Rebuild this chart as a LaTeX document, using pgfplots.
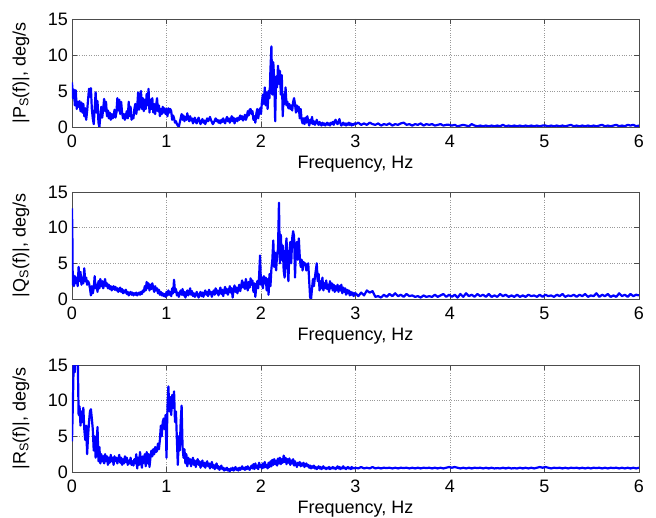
\documentclass[border=0pt]{standalone}
\usepackage{fontspec}
\setmainfont{Liberation Sans}
\usepackage{pgfplots}
\pgfplotsset{compat=1.18}
\pgfplotsset{
  myax/.style={
    width=567pt, scale only axis,
    xmin=0, xmax=6, ymin=0, ymax=15,
    xtick={0,1,2,3,4,5,6}, ytick={0,5,10,15},
    grid=major,
    major grid style={gray!80, line width=0.5pt, dash pattern=on 0.8pt off 1.6pt},
    tick align=inside, major tick length=5pt,
    axis line style={black!70, line width=0.6pt},
    tick style={black!70, line width=0.6pt},
    no markers,
    /pgf/number format/assume math mode=true,
    every tick label/.append style={font=\fontsize{18}{21}\selectfont},
    every axis label/.append style={font=\fontsize{18}{21}\selectfont},
    xticklabel style={inner sep=0pt, anchor=north, yshift=-8pt},
    yticklabel style={inner sep=0pt, anchor=east, xshift=-4pt},
    xlabel={Frequency, Hz},
    xlabel style={at={(axis description cs:0.5,0)}, anchor=north, inner sep=0pt, yshift=-29pt},
    ylabel style={at={(axis description cs:-0.09,0.5)}, anchor=center, inner sep=0pt},
  },
  myline/.style={blue, line width=2.2pt, line join=round, mark=none},
}
\begin{document}
\fontsize{18}{21}\selectfont
\begin{tikzpicture}[x=1pt,y=1pt]
\useasboundingbox (0,0) rectangle (656,517);
% ---------------- P ----------------
\begin{axis}[myax, height=108pt, at={(72pt,390pt)}, anchor=south west,
  ylabel={|P\textsubscript{S}(f)|, deg/s}]
\addplot[myline] coordinates {
(0.00,6.2)(0.01,4.0)(0.02,5.2)(0.03,3.0)(0.04,5.1)(0.05,2.5)(0.06,3.5)(0.07,2.8)(0.08,3.6)(0.09,2.2)
(0.10,3.4)(0.11,2.0)(0.12,3.2)(0.13,1.5)(0.14,2.6)(0.15,1.0)(0.16,2.2)(0.17,3.8)(0.18,5.3)(0.19,4.2)
(0.20,5.4)(0.21,2.5)(0.22,1.2)(0.23,0.4)(0.24,2.5)(0.25,4.8)(0.26,2.0)(0.27,3.6)(0.28,0.6)(0.29,0.0)
(0.30,1.5)(0.31,2.8)(0.32,1.3)(0.33,2.5)(0.34,3.9)(0.35,2.2)(0.36,3.5)(0.37,1.5)(0.38,2.3)(0.39,1.2)
(0.40,2.0)(0.41,1.0)(0.42,1.8)(0.43,1.2)(0.44,1.5)(0.45,2.4)(0.46,1.3)(0.47,2.0)(0.48,4.0)(0.49,2.3)
(0.50,3.8)(0.51,1.8)(0.52,3.5)(0.53,2.0)(0.54,1.2)(0.55,1.8)(0.56,1.0)(0.57,1.6)(0.58,2.2)(0.59,1.2)
(0.60,3.5)(0.61,1.5)(0.62,2.8)(0.63,1.0)(0.64,1.5)(0.65,1.2)(0.66,2.5)(0.67,3.2)(0.68,1.8)(0.69,2.8)
(0.70,4.8)(0.71,2.4)(0.72,3.2)(0.73,5.0)(0.74,2.5)(0.75,4.0)(0.76,2.2)(0.77,3.8)(0.78,2.5)(0.79,4.6)
(0.80,3.0)(0.81,5.3)(0.82,2.0)(0.83,3.8)(0.84,2.5)(0.85,4.0)(0.86,2.0)(0.87,3.2)(0.88,1.8)(0.89,3.0)
(0.90,4.0)(0.91,2.2)(0.92,3.0)(0.93,1.5)(0.94,2.5)(0.95,1.8)(0.96,2.8)(0.97,2.0)(0.98,2.6)(0.99,1.8)
(1.00,2.5)(1.01,1.5)(1.02,2.6)(1.03,2.0)(1.04,2.5)(1.05,2.2)(1.06,1.0)(1.07,1.6)(1.08,1.2)(1.09,0.6)
(1.10,0.8)(1.11,0.4)(1.12,0.2)(1.13,0.0)(1.14,0.6)(1.15,1.2)(1.16,1.8)(1.17,1.0)(1.18,1.6)(1.19,0.8)
(1.20,1.4)(1.21,1.0)(1.22,1.9)(1.23,1.2)(1.24,0.8)(1.25,1.5)(1.26,0.9)(1.27,1.2)(1.28,0.5)(1.29,0.9)
(1.30,1.3)(1.31,0.7)(1.32,0.5)(1.33,1.0)(1.34,1.3)(1.35,0.8)(1.36,0.4)(1.37,0.8)(1.38,1.1)(1.39,0.6)
(1.40,0.9)(1.41,0.4)(1.42,0.8)(1.43,1.2)(1.44,0.8)(1.45,1.0)(1.46,1.4)(1.47,1.0)(1.48,0.7)(1.49,0.4)
(1.50,0.6)(1.51,0.9)(1.52,1.2)(1.53,0.8)(1.54,1.0)(1.55,0.6)(1.56,0.9)(1.57,0.5)(1.58,1.0)(1.59,0.7)
(1.60,1.2)(1.61,0.8)(1.62,0.5)(1.63,1.0)(1.64,1.4)(1.65,0.8)(1.66,1.2)(1.67,0.6)(1.68,1.0)(1.69,1.5)
(1.70,0.8)(1.71,1.3)(1.72,0.5)(1.73,1.0)(1.74,1.2)(1.75,0.8)(1.76,1.3)(1.77,1.0)(1.78,1.6)(1.79,1.1)
(1.80,1.5)(1.81,0.9)(1.82,1.2)(1.83,1.7)(1.84,1.0)(1.85,1.4)(1.86,2.2)(1.87,1.6)(1.88,2.4)(1.89,2.5)
(1.90,1.8)(1.91,2.2)(1.92,1.0)(1.93,1.5)(1.94,0.6)(1.95,1.8)(1.96,2.5)(1.97,1.2)(1.98,2.0)(1.99,2.6)
(2.00,1.8)(2.01,3.5)(2.02,4.5)(2.03,3.2)(2.04,5.5)(2.05,3.0)(2.06,4.8)(2.07,2.5)(2.08,5.0)(2.09,4.0)
(2.10,8.0)(2.11,11.2)(2.12,4.5)(2.13,9.0)(2.14,6.5)(2.15,0.8)(2.16,7.0)(2.17,5.5)(2.18,8.5)(2.19,6.0)
(2.20,7.8)(2.21,4.5)(2.22,7.2)(2.23,1.5)(2.24,4.5)(2.25,3.2)(2.26,5.5)(2.27,3.0)(2.28,3.5)(2.29,2.6)
(2.30,3.2)(2.31,2.5)(2.32,3.0)(2.33,2.3)(2.34,3.5)(2.35,4.0)(2.36,3.2)(2.37,2.0)(2.38,3.0)(2.39,2.2)
(2.40,2.8)(2.41,1.2)(2.42,2.5)(2.43,1.0)(2.44,0.5)(2.45,1.2)(2.46,0.4)(2.47,1.3)(2.48,0.6)(2.49,1.5)
(2.50,0.8)(2.51,0.2)(2.52,1.0)(2.53,0.5)(2.54,1.4)(2.55,0.4)(2.56,0.8)(2.57,0.3)(2.58,0.6)(2.59,1.0)
(2.60,0.5)(2.61,0.3)(2.62,0.7)(2.63,0.4)(2.64,0.2)(2.65,0.6)(2.66,0.3)(2.67,0.5)(2.68,0.2)(2.69,0.4)
(2.70,0.6)(2.71,0.3)(2.72,0.5)(2.73,0.2)(2.74,0.6)(2.75,0.4)(2.76,0.7)(2.77,0.3)(2.78,0.8)(2.79,1.0)
(2.80,0.6)(2.81,0.4)(2.82,0.7)(2.83,1.1)(2.84,0.5)(2.85,0.2)(2.86,0.4)(2.87,0.6)(2.88,0.3)(2.89,0.5)
(2.90,0.2)(2.91,0.5)(2.92,0.3)(2.93,0.6)(2.94,0.3)(2.95,0.5)(2.96,0.2)(2.97,0.4)(2.98,0.3)(2.99,0.5)
(3.00,0.4)(3.03,0.6)(3.06,0.3)(3.09,0.5)(3.12,0.3)(3.15,0.6)(3.18,0.4)(3.21,0.3)(3.24,0.5)(3.27,0.2)
(3.30,0.4)(3.33,0.3)(3.36,0.5)(3.39,0.2)(3.42,0.4)(3.45,0.3)(3.48,0.5)(3.51,0.6)(3.54,0.3)(3.57,0.4)
(3.60,0.2)(3.63,0.4)(3.66,0.3)(3.69,0.5)(3.72,0.2)(3.75,0.4)(3.78,0.3)(3.81,0.4)(3.84,0.2)(3.87,0.3)
(3.90,0.4)(3.93,0.2)(3.96,0.3)(3.99,0.3)(4.02,0.2)(4.05,0.3)(4.08,0.1)(4.11,0.2)(4.14,0.3)(4.17,0.2)
(4.20,0.1)(4.23,0.4)(4.26,0.2)(4.29,0.1)(4.32,0.2)(4.35,0.1)(4.38,0.2)(4.41,0.1)(4.44,0.2)(4.47,0.1)
(4.50,0.2)(4.53,0.1)(4.56,0.3)(4.59,0.1)(4.62,0.2)(4.65,0.1)(4.68,0.2)(4.71,0.1)(4.74,0.2)(4.77,0.1)
(4.80,0.2)(4.83,0.1)(4.86,0.2)(4.89,0.1)(4.92,0.2)(4.95,0.1)(4.98,0.2)(5.01,0.2)(5.04,0.1)(5.07,0.2)
(5.10,0.1)(5.13,0.2)(5.16,0.1)(5.19,0.2)(5.22,0.1)(5.25,0.2)(5.28,0.3)(5.31,0.1)(5.34,0.2)(5.37,0.1)
(5.40,0.2)(5.43,0.1)(5.46,0.2)(5.49,0.1)(5.52,0.2)(5.55,0.1)(5.58,0.2)(5.61,0.3)(5.64,0.1)(5.67,0.2)
(5.70,0.1)(5.73,0.2)(5.76,0.3)(5.79,0.1)(5.82,0.2)(5.85,0.1)(5.88,0.3)(5.91,0.2)(5.94,0.3)(5.97,0.1)
(6.00,0.2)
};
\end{axis}
% ---------------- Q ----------------
\begin{axis}[myax, height=107pt, at={(72pt,218pt)}, anchor=south west,
  ylabel={|Q\textsubscript{S}(f)|, deg/s}]
\addplot[myline] coordinates {
(0.000,12.7)(0.004,8.9)(0.008,2.0)
(0.01,3.5)(0.02,1.8)(0.03,3.2)(0.04,2.2)(0.05,3.0)(0.06,1.8)(0.07,4.5)(0.08,2.5)(0.09,3.8)
(0.10,2.0)(0.11,3.0)(0.12,2.2)(0.13,4.3)(0.14,2.5)(0.15,3.0)(0.16,2.0)(0.17,2.5)(0.18,2.2)(0.19,1.5)
(0.20,0.5)(0.21,1.8)(0.22,0.8)(0.23,1.5)(0.24,3.2)(0.25,1.5)(0.26,2.0)(0.27,1.0)(0.28,2.5)(0.29,1.5)
(0.30,2.8)(0.31,1.8)(0.32,2.5)(0.33,1.5)(0.34,2.0)(0.35,2.8)(0.36,1.8)(0.37,2.2)(0.38,1.5)(0.39,2.0)
(0.40,1.4)(0.41,1.8)(0.42,1.2)(0.43,1.6)(0.44,1.8)(0.45,1.3)(0.46,1.7)(0.47,1.2)(0.48,1.5)(0.49,1.0)
(0.50,1.4)(0.51,1.6)(0.52,1.0)(0.53,1.4)(0.54,0.8)(0.55,1.2)(0.56,0.9)(0.57,1.3)(0.58,0.7)(0.59,1.0)
(0.60,0.5)(0.61,0.8)(0.62,1.0)(0.63,0.6)(0.64,0.9)(0.65,0.5)(0.66,0.8)(0.67,0.6)(0.68,0.9)(0.69,0.5)
(0.70,0.7)(0.71,0.9)(0.72,0.6)(0.73,1.0)(0.74,0.7)(0.75,1.2)(0.76,1.0)(0.77,1.8)(0.78,1.2)(0.79,2.4)
(0.80,1.5)(0.81,2.2)(0.82,1.2)(0.83,2.0)(0.84,1.4)(0.85,2.2)(0.86,1.5)(0.87,1.0)(0.88,1.8)(0.89,1.2)
(0.90,1.5)(0.91,0.8)(0.92,1.3)(0.93,0.6)(0.94,1.0)(0.95,0.5)(0.96,0.8)(0.97,0.4)(0.98,0.7)(0.99,0.3)
(1.00,1.0)(1.01,0.5)(1.02,1.2)(1.03,0.6)(1.04,1.0)(1.05,0.4)(1.06,1.5)(1.07,0.8)(1.08,2.7)(1.09,1.0)
(1.10,1.4)(1.11,0.5)(1.12,0.9)(1.13,0.3)(1.14,0.8)(1.15,1.2)(1.16,0.6)(1.17,1.4)(1.18,0.5)(1.19,1.0)
(1.20,0.2)(1.21,0.7)(1.22,1.2)(1.23,0.5)(1.24,0.9)(1.25,1.5)(1.26,0.6)(1.27,1.1)(1.28,0.4)(1.29,0.8)
(1.30,0.3)(1.31,0.6)(1.32,1.0)(1.33,0.5)(1.34,0.2)(1.35,0.7)(1.36,1.0)(1.37,0.4)(1.38,0.9)(1.39,0.3)
(1.40,0.8)(1.41,1.2)(1.42,0.6)(1.43,1.0)(1.44,0.4)(1.45,1.3)(1.46,0.7)(1.47,1.0)(1.48,0.3)(1.49,0.9)
(1.50,1.2)(1.51,0.6)(1.52,1.5)(1.53,0.8)(1.54,1.2)(1.55,0.5)(1.56,1.0)(1.57,1.6)(1.58,0.7)(1.59,1.3)
(1.60,0.4)(1.61,1.1)(1.62,1.7)(1.63,0.8)(1.64,1.4)(1.65,0.6)(1.66,1.2)(1.67,1.8)(1.68,0.9)(1.69,1.5)
(1.70,0.2)(1.71,1.3)(1.72,1.9)(1.73,1.0)(1.74,1.6)(1.75,0.8)(1.76,1.4)(1.77,2.0)(1.78,1.1)(1.79,1.8)
(1.80,2.6)(1.81,1.6)(1.82,2.3)(1.83,1.4)(1.84,2.8)(1.85,2.0)(1.86,1.2)(1.87,2.4)(1.88,1.6)(1.89,2.9)
(1.90,2.0)(1.91,2.6)(1.92,1.0)(1.93,2.2)(1.94,0.3)(1.95,1.8)(1.96,2.5)(1.97,1.5)(1.98,3.2)(1.99,6.1)
(2.00,2.0)(2.01,3.0)(2.02,1.5)(2.03,3.2)(2.04,2.2)(2.05,3.0)(2.06,1.2)(2.07,2.8)(2.08,0.6)(2.09,3.5)
(2.10,1.8)(2.11,4.2)(2.12,5.5)(2.13,8.2)(2.14,4.5)(2.15,6.5)(2.16,4.0)(2.17,6.2)(2.18,7.0)(2.19,13.5)
(2.20,5.0)(2.21,9.0)(2.22,5.5)(2.23,7.5)(2.24,4.0)(2.25,3.0)(2.26,6.8)(2.27,8.5)(2.28,4.5)(2.29,2.5)
(2.30,6.5)(2.31,8.0)(2.32,5.0)(2.33,8.5)(2.34,9.5)(2.35,8.8)(2.36,3.0)(2.37,7.0)(2.38,8.0)(2.39,5.5)
(2.40,8.5)(2.41,6.0)(2.42,4.5)(2.43,5.5)(2.44,4.0)(2.45,5.2)(2.46,4.8)(2.47,5.0)(2.48,4.0)(2.49,4.6)
(2.50,5.0)(2.51,2.5)(2.52,0.2)(2.53,0.0)(2.54,1.5)(2.55,2.8)(2.56,1.8)(2.57,3.0)(2.58,4.0)(2.59,5.0)
(2.60,2.5)(2.61,3.5)(2.62,1.2)(2.63,2.5)(2.64,1.5)(2.65,3.0)(2.66,1.2)(2.67,2.2)(2.68,1.5)(2.69,2.6)
(2.70,1.4)(2.71,2.0)(2.72,1.0)(2.73,2.5)(2.74,1.5)(2.75,2.2)(2.76,1.2)(2.77,2.0)(2.78,1.0)(2.79,1.8)
(2.80,1.2)(2.81,2.0)(2.82,1.0)(2.83,1.8)(2.84,1.2)(2.85,2.0)(2.86,0.8)(2.87,1.6)(2.88,1.0)(2.89,1.5)
(2.90,0.6)(2.91,1.3)(2.92,0.8)(2.93,1.2)(2.94,0.5)(2.95,1.0)(2.96,0.6)(2.97,0.9)(2.98,0.4)(2.99,0.8)
(3.00,0.8)(3.03,0.4)(3.06,0.9)(3.09,0.5)(3.12,1.2)(3.15,0.9)(3.18,1.1)(3.21,0.3)(3.24,0.4)(3.27,0.2)
(3.30,0.6)(3.33,0.3)(3.36,0.7)(3.39,0.4)(3.42,0.8)(3.45,0.4)(3.48,0.6)(3.51,0.3)(3.54,0.7)(3.57,0.4)
(3.60,0.5)(3.63,0.3)(3.66,0.4)(3.69,0.2)(3.72,0.5)(3.75,0.3)(3.78,0.4)(3.81,0.3)(3.84,0.6)(3.87,0.3)
(3.90,0.5)(3.93,0.7)(3.96,0.3)(3.99,0.6)(4.02,0.3)(4.05,0.6)(4.08,0.2)(4.11,0.7)(4.14,0.3)(4.17,0.8)
(4.20,0.4)(4.23,0.6)(4.26,0.3)(4.29,0.7)(4.32,0.4)(4.35,0.6)(4.38,0.3)(4.41,0.7)(4.44,0.3)(4.47,0.5)
(4.50,0.3)(4.53,0.7)(4.56,0.4)(4.59,0.6)(4.62,0.3)(4.65,0.5)(4.68,0.3)(4.71,0.6)(4.74,0.3)(4.77,0.5)
(4.80,0.3)(4.83,0.6)(4.86,0.4)(4.89,0.5)(4.92,0.3)(4.95,0.6)(4.98,0.3)(5.01,0.6)(5.04,0.4)(5.07,0.5)
(5.10,0.3)(5.13,0.6)(5.16,0.4)(5.19,0.7)(5.22,0.3)(5.25,0.5)(5.28,0.4)(5.31,0.6)(5.34,0.3)(5.37,0.6)
(5.40,0.4)(5.43,0.7)(5.46,0.3)(5.49,0.5)(5.52,0.4)(5.55,0.8)(5.58,0.3)(5.61,0.6)(5.64,0.4)(5.67,0.7)
(5.70,0.3)(5.73,0.5)(5.76,0.3)(5.79,0.8)(5.82,0.4)(5.85,0.6)(5.88,0.3)(5.91,0.7)(5.94,0.4)(5.97,0.6)
(6.00,0.5)
};
\end{axis}
% ---------------- R ----------------
\begin{axis}[myax, height=107pt, at={(72pt,45pt)}, anchor=south west,
  ylabel={|R\textsubscript{S}(f)|, deg/s}]
\addplot[myline] coordinates {
(0.00,4.3)(0.01,10.0)(0.02,17.0)(0.03,14.0)(0.04,18.0)(0.05,16.0)(0.06,17.0)(0.07,8.0)(0.08,9.2)(0.09,6.5)
(0.10,8.5)(0.11,7.0)(0.12,9.0)(0.13,6.0)(0.14,4.5)(0.15,6.5)(0.16,2.5)(0.17,5.0)(0.18,7.0)(0.19,8.5)
(0.20,8.8)(0.21,7.5)(0.22,6.0)(0.23,3.0)(0.24,5.0)(0.25,2.0)(0.26,4.0)(0.27,6.3)(0.28,1.5)(0.29,3.5)
(0.30,1.2)(0.31,2.5)(0.32,1.5)(0.33,2.2)(0.34,1.2)(0.35,2.5)(0.36,1.5)(0.37,2.2)(0.38,1.0)(0.39,2.0)
(0.40,1.3)(0.41,2.4)(0.42,1.5)(0.43,2.0)(0.44,1.0)(0.45,2.2)(0.46,1.5)(0.47,2.0)(0.48,1.2)(0.49,1.8)
(0.50,2.4)(0.51,1.3)(0.52,2.0)(0.53,1.0)(0.54,1.8)(0.55,1.2)(0.56,2.2)(0.57,1.4)(0.58,2.0)(0.59,1.0)
(0.60,1.6)(0.61,1.2)(0.62,2.0)(0.63,1.0)(0.64,1.5)(0.65,0.9)(0.66,1.8)(0.67,1.2)(0.68,2.5)(0.69,0.5)
(0.70,2.0)(0.71,1.0)(0.72,2.8)(0.73,1.5)(0.74,0.6)(0.75,2.2)(0.76,1.3)(0.77,2.5)(0.78,0.8)(0.79,2.8)
(0.80,1.2)(0.81,2.5)(0.82,0.7)(0.83,2.0)(0.84,3.0)(0.85,2.2)(0.86,3.2)(0.87,2.5)(0.88,3.5)(0.89,2.8)
(0.90,3.0)(0.91,4.0)(0.92,3.2)(0.93,4.5)(0.94,6.5)(0.95,5.0)(0.96,7.0)(0.97,7.5)(0.98,6.0)(0.99,8.0)
(1.00,2.0)(1.01,9.0)(1.02,12.0)(1.03,8.5)(1.04,10.5)(1.05,8.0)(1.06,10.8)(1.07,9.0)(1.08,11.3)(1.09,7.0)
(1.10,8.5)(1.11,4.5)(1.12,1.0)(1.13,5.0)(1.14,3.0)(1.15,7.0)(1.16,9.3)(1.17,3.5)(1.18,2.0)(1.19,3.2)
(1.20,1.2)(1.21,2.5)(1.22,0.8)(1.23,2.0)(1.24,1.2)(1.25,1.8)(1.26,0.8)(1.27,1.5)(1.28,2.0)(1.29,1.0)
(1.30,1.6)(1.31,0.7)(1.32,1.4)(1.33,1.8)(1.34,1.0)(1.35,1.5)(1.36,0.6)(1.37,1.2)(1.38,1.6)(1.39,0.8)
(1.40,1.3)(1.41,0.6)(1.42,1.1)(1.43,1.5)(1.44,0.8)(1.45,1.2)(1.46,0.5)(1.47,1.0)(1.48,1.4)(1.49,0.6)
(1.50,1.0)(1.51,0.4)(1.52,0.8)(1.53,1.2)(1.54,0.5)(1.55,0.8)(1.56,0.3)(1.57,0.6)(1.58,0.9)(1.59,0.4)
(1.60,0.6)(1.61,0.2)(1.62,0.5)(1.63,0.3)(1.64,0.6)(1.65,0.2)(1.66,0.4)(1.67,0.1)(1.68,0.5)(1.69,0.3)
(1.70,0.6)(1.71,0.2)(1.72,0.4)(1.73,0.7)(1.74,0.3)(1.75,0.5)(1.76,0.2)(1.77,0.6)(1.78,0.3)(1.79,0.5)
(1.80,0.8)(1.81,0.4)(1.82,0.6)(1.83,0.3)(1.84,0.7)(1.85,0.4)(1.86,0.8)(1.87,0.5)(1.88,0.3)(1.89,0.6)
(1.90,0.9)(1.91,0.5)(1.92,1.1)(1.93,0.4)(1.94,1.2)(1.95,0.6)(1.96,0.9)(1.97,0.4)(1.98,1.3)(1.99,0.7)
(2.00,1.0)(2.01,0.5)(2.02,1.2)(2.03,0.6)(2.04,1.4)(2.05,0.7)(2.06,1.0)(2.07,0.5)(2.08,1.3)(2.09,0.7)
(2.10,1.5)(2.11,0.8)(2.12,1.7)(2.13,1.0)(2.14,1.8)(2.15,1.1)(2.16,1.6)(2.17,0.9)(2.18,1.9)(2.19,1.2)
(2.20,2.0)(2.21,1.1)(2.22,1.8)(2.23,1.3)(2.24,2.3)(2.25,1.4)(2.26,2.0)(2.27,1.1)(2.28,1.8)(2.29,1.3)
(2.30,1.9)(2.31,1.0)(2.32,1.6)(2.33,1.2)(2.34,1.8)(2.35,0.9)(2.36,1.5)(2.37,1.1)(2.38,0.7)(2.39,1.3)
(2.40,1.0)(2.41,1.4)(2.42,0.8)(2.43,1.2)(2.44,0.9)(2.45,1.3)(2.46,0.7)(2.47,1.0)(2.48,1.2)(2.49,0.8)
(2.50,1.0)(2.51,0.6)(2.52,0.9)(2.53,0.5)(2.54,0.8)(2.55,0.6)(2.56,0.9)(2.57,0.5)(2.58,0.7)(2.59,0.4)
(2.60,0.6)(2.61,0.8)(2.62,0.5)(2.63,0.7)(2.64,0.4)(2.65,0.6)(2.66,0.8)(2.67,0.5)(2.68,0.6)(2.69,0.4)
(2.70,0.6)(2.71,0.5)(2.72,0.7)(2.73,0.4)(2.74,0.6)(2.75,0.5)(2.76,0.7)(2.77,0.5)(2.78,0.6)(2.79,0.4)
(2.80,0.6)(2.81,0.8)(2.82,0.5)(2.83,0.7)(2.84,0.4)(2.85,0.6)(2.86,0.5)(2.87,0.8)(2.88,0.5)(2.89,0.6)
(2.90,0.4)(2.91,0.6)(2.92,0.7)(2.93,0.5)(2.94,0.6)(2.95,0.4)(2.96,0.7)(2.97,0.5)(2.98,0.6)(2.99,0.5)
(3.00,0.6)(3.03,0.5)(3.06,0.7)(3.09,0.5)(3.12,0.6)(3.15,0.5)(3.18,0.7)(3.21,0.5)(3.24,0.6)(3.27,0.5)
(3.30,0.6)(3.33,0.55)(3.36,0.6)(3.39,0.5)(3.42,0.6)(3.45,0.5)(3.48,0.6)(3.51,0.55)(3.54,0.6)(3.57,0.5)
(3.60,0.6)(3.63,0.5)(3.66,0.6)(3.69,0.5)(3.72,0.6)(3.75,0.55)(3.78,0.6)(3.81,0.5)(3.84,0.6)(3.87,0.5)
(3.90,0.6)(3.93,0.5)(3.96,0.6)(3.99,0.7)(4.02,0.6)(4.05,0.7)(4.08,0.6)(4.11,0.5)(4.14,0.6)(4.17,0.5)
(4.20,0.6)(4.23,0.5)(4.26,0.6)(4.29,0.55)(4.32,0.6)(4.35,0.5)(4.38,0.6)(4.41,0.5)(4.44,0.6)(4.47,0.5)
(4.50,0.55)(4.53,0.5)(4.56,0.6)(4.59,0.5)(4.62,0.6)(4.65,0.5)(4.68,0.55)(4.71,0.5)(4.74,0.6)(4.77,0.5)
(4.80,0.6)(4.83,0.5)(4.86,0.6)(4.89,0.5)(4.92,0.6)(4.95,0.7)(4.98,0.6)(5.01,0.7)(5.04,0.6)(5.07,0.5)
(5.10,0.6)(5.13,0.55)(5.16,0.6)(5.19,0.5)(5.22,0.6)(5.25,0.5)(5.28,0.6)(5.31,0.55)(5.34,0.6)(5.37,0.5)
(5.40,0.6)(5.43,0.5)(5.46,0.6)(5.49,0.5)(5.52,0.6)(5.55,0.55)(5.58,0.6)(5.61,0.5)(5.64,0.6)(5.67,0.5)
(5.70,0.6)(5.73,0.55)(5.76,0.6)(5.79,0.5)(5.82,0.6)(5.85,0.5)(5.88,0.6)(5.91,0.5)(5.94,0.6)(5.97,0.5)
(6.00,0.6)
};
\end{axis}
\end{tikzpicture}
\end{document}
